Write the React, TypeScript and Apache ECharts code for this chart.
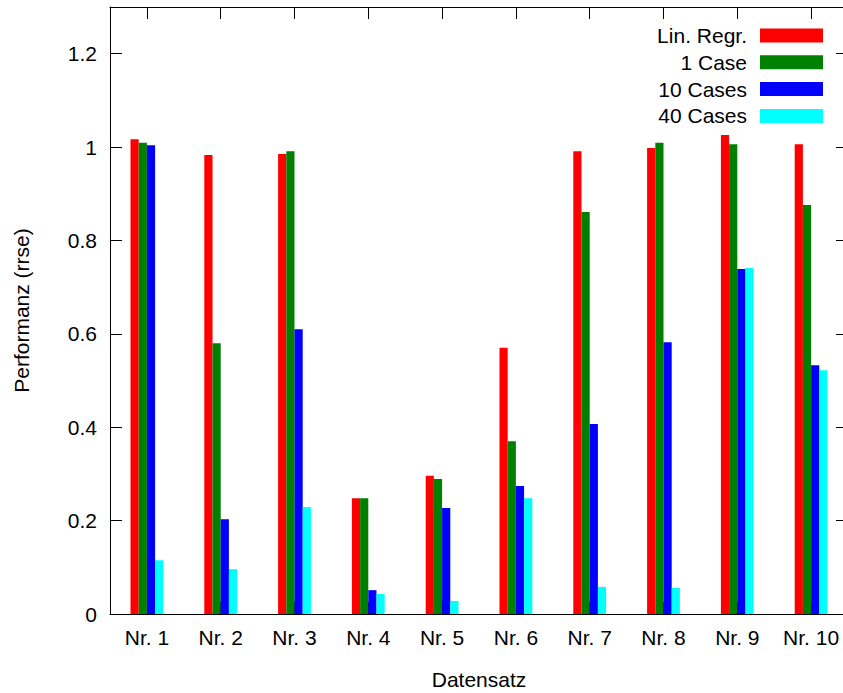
import React, { useEffect, useRef } from "react";
import * as echarts from "echarts";

const categories = ["Nr. 1", "Nr. 2", "Nr. 3", "Nr. 4", "Nr. 5", "Nr. 6", "Nr. 7", "Nr. 8", "Nr. 9", "Nr. 10"];
const seriesNames = ["Lin. Regr.", "1 Case", "10 Cases", "40 Cases"];
const linRegr = [1.017, 0.983, 0.985, 0.248, 0.296, 0.570, 0.991, 0.998, 1.026, 1.006];
const case1 = [1.009, 0.580, 0.991, 0.248, 0.289, 0.370, 0.861, 1.009, 1.006, 0.876];
const cases10 = [1.004, 0.203, 0.610, 0.051, 0.227, 0.274, 0.407, 0.582, 0.739, 0.533];
const cases40 = [0.115, 0.096, 0.229, 0.043, 0.028, 0.248, 0.058, 0.056, 0.741, 0.522];
const colors = ["#ff0000", "#008000", "#0000ff", "#00ffff"];

const FONT = "'Liberation Sans', Arial, Helvetica, sans-serif";

export default function App() {
  const ref = useRef<HTMLDivElement>(null);
  useEffect(() => {
    if (!ref.current) return;
    const chart = echarts.init(ref.current, undefined, { renderer: "svg" });
    const values = [linRegr, case1, cases10, cases40];
    const axisLine = { show: true, onZero: false, lineStyle: { color: "#000", width: 1 } };
    const tickStyle = { color: "#000", width: 1 };
    chart.setOption({
      animation: false,
      backgroundColor: "#fff",
      textStyle: { fontFamily: FONT },
      grid: { left: 110, top: 7, width: 738, height: 607, containLabel: false, outerBoundsMode: "none" },
      legend: {
        orient: "vertical",
        right: 20,
        top: 25,
        padding: 0,
        itemGap: 5.8,
        itemWidth: 63,
        itemHeight: 14,
        align: "right",
        icon: "rect",
        data: seriesNames,
        textStyle: {
          fontFamily: FONT,
          fontSize: 21,
          color: "#000",
          width: 110,
          align: "right",
          lineHeight: 14,
          padding: [0, 8, 0, 0],
        },
      },
      xAxis: [
        {
          type: "category",
          data: categories,
          position: "bottom",
          boundaryGap: true,
          axisLine,
          axisTick: { show: true, inside: true, length: 12, interval: 0, alignWithLabel: true, lineStyle: tickStyle },
          axisLabel: { color: "#000", fontSize: 21, fontFamily: FONT, margin: 13, interval: 0 },
          splitLine: { show: false },
          name: "Datensatz",
          nameLocation: "middle",
          nameGap: 55,
          nameTextStyle: { color: "#000", fontSize: 21, fontFamily: FONT },
        },
        {
          type: "category",
          data: categories,
          position: "top",
          boundaryGap: true,
          axisLine,
          axisTick: { show: true, inside: true, length: 12, interval: 0, alignWithLabel: true, lineStyle: tickStyle },
          axisLabel: { show: true, interval: 0, formatter: () => "" },
          splitLine: { show: false },
        },
      ],
      yAxis: [
        {
          type: "value",
          min: 0,
          max: 1.3,
          interval: 0.2,
          position: "left",
          axisLine,
          axisTick: { show: true, inside: true, length: 12, lineStyle: tickStyle },
          axisLabel: { color: "#000", fontSize: 21, fontFamily: FONT, margin: 13, showMaxLabel: false },
          splitLine: { show: false },
          name: "Performanz (rrse)",
          nameLocation: "middle",
          nameGap: 78,
          nameTextStyle: { color: "#000", fontSize: 21, fontFamily: FONT },
        },
        {
          type: "value",
          min: 0,
          max: 1.3,
          interval: 0.2,
          position: "right",
          axisLine,
          axisTick: { show: true, inside: true, length: 12, lineStyle: tickStyle },
          axisLabel: { show: false },
          splitLine: { show: false },
        },
      ],
      series: seriesNames.map((name, i) => ({
        name,
        type: "bar",
        xAxisIndex: 0,
        yAxisIndex: 0,
        data: values[i],
        barWidth: 8.2,
        barGap: "0%",
        itemStyle: { color: colors[i] },
      })),
    });
    return () => chart.dispose();
  }, []);
  return <div ref={ref} style={{ position: "fixed", left: 0, top: 0, width: 843, height: 693 }} />;
}
